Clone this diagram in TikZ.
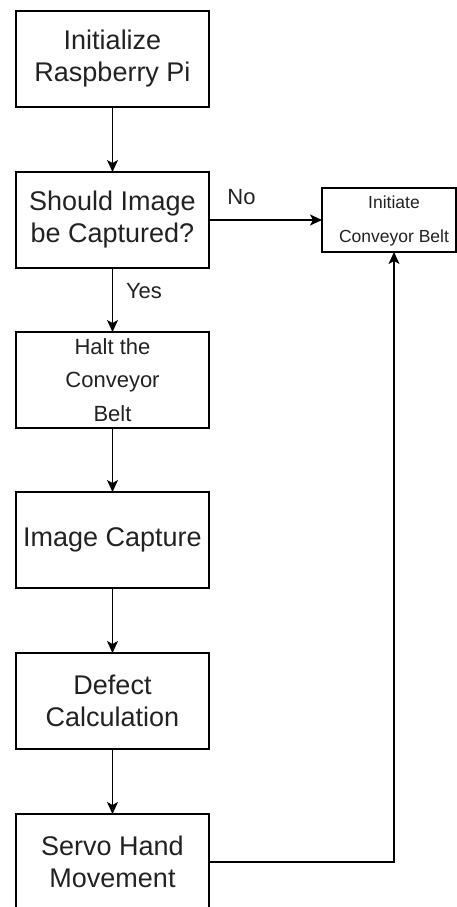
\documentclass[tikz,border=0pt]{standalone}
\usepackage{fontspec}
\setmainfont{Liberation Sans}
\usetikzlibrary{arrows.meta}
\definecolor{txt}{HTML}{222222}
\begin{document}
\begin{tikzpicture}[x=1pt,y=-1pt,
  flow/.style={draw=black, line width=1.3pt, -{Stealth[length=12pt,width=11pt,inset=3pt]}},
  stepbox/.style={draw=black, line width=1.3pt, minimum width=193pt, minimum height=96pt,
    inner sep=0pt, outer sep=0pt, align=center, text=txt, font=\fontsize{27}{32}\selectfont},
  smalltext/.style={text=txt, align=center, inner sep=0pt, font=\fontsize{17.5}{34}\selectfont},
  edgelabel/.style={text=txt, inner sep=0pt, anchor=base, font=\fontsize{22}{26}\selectfont}]
\path[use as bounding box, clip] (0,0) rectangle (457,907);

% main column of steps
\node[stepbox] (init)    at (112.5,59)  {Initialize\\Raspberry Pi};
\node[stepbox] (ask)     at (112.5,220) {Should Image\\be Captured?};
\node[stepbox, font=\fontsize{22}{33.5}\selectfont] (halt) at (112.5,380) {Halt the\\Conveyor\\Belt};
\node[stepbox] (capture) at (112.5,540) {Image Capture};
\node[stepbox] (defect)  at (112.5,701) {Defect\\Calculation};
\node[stepbox] (servo)   at (112.5,862) {Servo Hand\\Movement};

% conveyor restart box on the right
\node[draw=black, line width=1.3pt, minimum width=134pt, minimum height=64pt,
      inner sep=0pt, outer sep=0pt] (belt) at (389,220) {};
\node[smalltext] (belttext) at (394,221) {Initiate\\Conveyor Belt};

% connectors
\draw[flow] (init) -- (ask);
\draw[flow] (ask) -- (halt);
\draw[flow] (halt) -- (capture);
\draw[flow] (capture) -- (defect);
\draw[flow] (defect) -- (servo);
\draw[flow] (ask.east) -- (belt.west);
\coordinate (beltin) at (belt.south -| belttext.center);
\draw[flow] (servo.east) -| (beltin);

% branch labels
\node[edgelabel] (yes) at (144,298) {Yes};
\node[edgelabel] (no)  at (241.5,204) {No};
\end{tikzpicture}
\end{document}
